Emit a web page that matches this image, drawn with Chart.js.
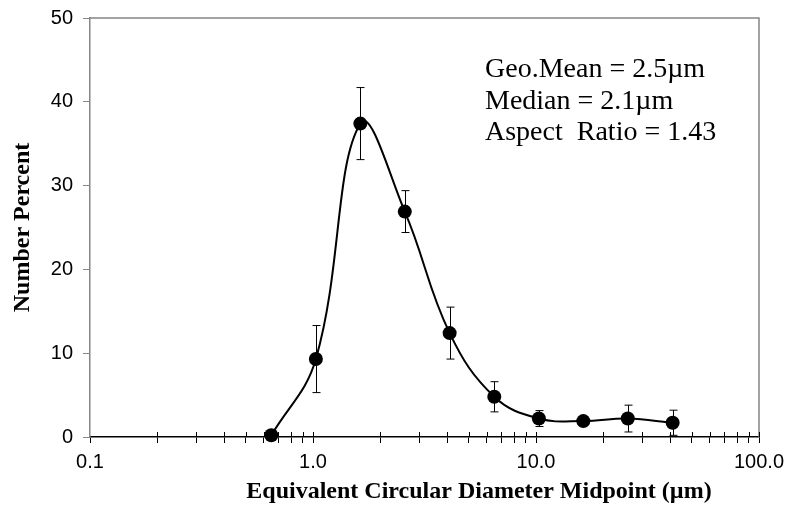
<!DOCTYPE html>
<html>
<head>
<meta charset="utf-8">
<script src="https://cdn.jsdelivr.net/npm/chart.js@4.4.1/dist/chart.umd.min.js"></script>
<style>
  html, body { margin: 0; padding: 0; background: #fff; }
  #sizeChart { display: block; }
</style>
</head>
<body>
<canvas id="sizeChart" width="789" height="507"></canvas>
<script>
    "use strict";

    // bin midpoints (um) and number percent
    const diameters = [0.65, 1.03, 1.63, 2.58, 4.1, 6.5, 10.3, 16.3, 25.8, 41.0];
    const numberPercent = [0.2, 9.3, 37.4, 26.9, 12.4, 4.8, 2.2, 1.9, 2.2, 1.7];
    const errorPercent = [0, 4.0, 4.3, 2.5, 3.1, 1.8, 0.95, 0, 1.6, 1.5];

    // log axis tick marks, only the decades carry a label
    const xTickValues = [0.1, 0.2, 0.3, 0.4, 0.5, 0.6, 0.7, 0.8, 0.9,
                         1, 2, 3, 4, 5, 6, 7, 8, 9,
                         10, 20, 30, 40, 50, 60, 70, 80, 90, 100];
    const xTickLabels = { 0.1: '0.1', 1: '1.0', 10: '10.0', 100: '100.0' };
    const yTicks = [0, 10, 20, 30, 40, 50];

    const xTitle = 'Equivalent Circular Diameter Midpoint (\u00b5m)';
    const statsLines = ['Geo.Mean = 2.5\u00b5m', 'Median = 2.1\u00b5m', 'Aspect  Ratio = 1.43'];

    var ctx = document.getElementById('sizeChart').getContext('2d');

    /* error bars under the markers */
    const errorBars = {
        id: 'errorBars',
        beforeDatasetsDraw(chart) {
            const x = chart.scales.x, y = chart.scales.y;
            const c = chart.ctx;
            c.save();
            c.strokeStyle = '#000';
            c.lineWidth = 1;
            errorPercent.forEach(function (e, i) {
                if (!e) return;
                const px = Math.round(x.getPixelForValue(diameters[i])) + 0.5;
                const top = y.getPixelForValue(numberPercent[i] + e);
                const bot = y.getPixelForValue(Math.max(numberPercent[i] - e, 0));
                c.beginPath();
                c.moveTo(px, top); c.lineTo(px, bot);
                c.moveTo(px - 4, top); c.lineTo(px + 4, top);
                c.moveTo(px - 4, bot); c.lineTo(px + 4, bot);
                c.stroke();
            });
            c.restore();
        }
    };

    /* frame on top/right, ticks crossing the x axis, x title, stats text */
    const frameAndText = {
        id: 'frameAndText',
        afterDraw(chart) {
            const a = chart.chartArea;
            const c = chart.ctx;
            c.save();
            c.strokeStyle = '#858585';
            c.lineWidth = 1.5;
            c.beginPath();
            c.moveTo(a.left, a.top); c.lineTo(a.right, a.top); c.lineTo(a.right, a.bottom);
            c.stroke();

            c.strokeStyle = '#000';
            c.lineWidth = 1;
            const x = chart.scales.x;
            xTickValues.forEach(function (v) {
                if (v === 0.1) return;
                const px = Math.round(x.getPixelForValue(v)) + 0.5;
                c.beginPath();
                c.moveTo(px, a.bottom - 5); c.lineTo(px, a.bottom);
                c.stroke();
            });

            c.fillStyle = '#000';
            c.textBaseline = 'alphabetic';
            // the original title sits right of the plot centre
            c.font = 'bold 24px "Liberation Serif"';
            c.textAlign = 'center';
            c.fillText(xTitle, 479, 498);

            c.font = '28px "Liberation Serif"';
            c.textAlign = 'left';
            statsLines.forEach(function (t, i) {
                c.fillText(t, 485, 77 + i * 31.5);
            });
            c.restore();
        }
    };

    new Chart(ctx, {
        type: 'line',
        data: {
            datasets: [{
                label: 'Number Percent',
                data: diameters.map(function (d, i) { return { x: d, y: numberPercent[i] }; }),
                borderColor: '#000',
                borderWidth: 2,
                tension: 0.4,
                pointRadius: 7,
                pointBackgroundColor: '#000',
                pointBorderWidth: 0,
                clip: false
            }]
        },
        options: {
            responsive: false,
            animation: false,
            devicePixelRatio: 1,
            layout: { padding: { top: 18, right: 30, left: 8, bottom: 0 } },
            plugins: {
                legend: { display: false },
                tooltip: { enabled: false }
            },
            scales: {
                x: {
                    type: 'logarithmic',
                    min: 0.1,
                    max: 100,
                    afterBuildTicks: function (scale) {
                        scale.ticks = xTickValues.map(function (v) { return { value: v }; });
                    },
                    afterFit: function (scale) {
                        scale.height = 70;
                        scale.paddingLeft = 0;
                        scale.paddingRight = 0;
                    },
                    ticks: {
                        autoSkip: false,
                        maxRotation: 0,
                        padding: 7,
                        color: '#000',
                        font: { family: '"Liberation Sans"', size: 20 },
                        callback: function (v) { return xTickLabels[v] || ''; }
                    },
                    grid: { drawOnChartArea: false, drawTicks: true, tickLength: 6, color: '#000' },
                    border: { color: '#000', width: 1.5 }
                },
                y: {
                    min: 0,
                    max: 50,
                    afterBuildTicks: function (scale) {
                        scale.ticks = yTicks.map(function (v) { return { value: v }; });
                    },
                    afterFit: function (scale) {
                        scale.width = 82;
                        scale.paddingTop = 0;
                        scale.paddingBottom = 0;
                    },
                    ticks: {
                        padding: 10,
                        color: '#000',
                        font: { family: '"Liberation Sans"', size: 20 }
                    },
                    grid: { drawOnChartArea: false, drawTicks: true, tickLength: 7, color: '#858585' },
                    border: { color: '#858585', width: 1.5 },
                    title: {
                        display: true,
                        text: 'Number Percent',
                        color: '#000',
                        font: { family: '"Liberation Serif"', size: 24, weight: 'bold' },
                        padding: { top: 0, bottom: 0 }
                    }
                }
            }
        },
        plugins: [errorBars, frameAndText]
    });
</script>
</body>
</html>
